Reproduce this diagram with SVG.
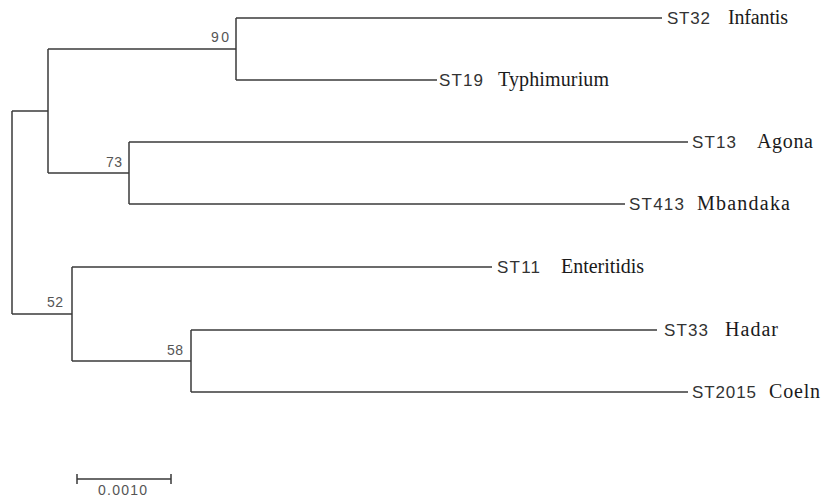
<svg xmlns="http://www.w3.org/2000/svg" width="823" height="499" viewBox="0 0 823 499">
<style>
.br{fill:none;stroke:#3a3a3a;stroke-width:1.5}
.st{font-family:"Liberation Sans",Arial,sans-serif;font-size:17px;fill:#333}
.sp{font-family:"Liberation Serif","Times New Roman",serif;font-size:20px;fill:#1a1a1a}
.bs{font-family:"Liberation Sans",Arial,sans-serif;font-size:14px;fill:#555}
</style>
<rect width="823" height="499" fill="#fff"/>
<g id="connectors">
<path class="br" d="M12,111 V314"/>
<path class="br" d="M12,111 H48"/>
<path class="br" d="M12,314 H72"/>
<path class="br" d="M48,49 V173"/>
<path class="br" d="M48,49 H236"/>
<path class="br" d="M48,173 H129"/>
<path class="br" d="M236,18 V80"/>
<path class="br" d="M236,18 H662"/>
<path class="br" d="M236,80 H437"/>
<path class="br" d="M129,142 V204"/>
<path class="br" d="M129,142 H688"/>
<path class="br" d="M129,204 H625"/>
<path class="br" d="M72,267 V361"/>
<path class="br" d="M72,267 H492"/>
<path class="br" d="M72,361 H191"/>
<path class="br" d="M191,330 V392"/>
<path class="br" d="M191,330 H657"/>
<path class="br" d="M191,392 H688"/>
</g>
<g id="bootstrap">
<text class="bs" x="211" y="42" textLength="18">90</text>
<text class="bs" x="106" y="167" textLength="16">73</text>
<text class="bs" x="47" y="307" textLength="16">52</text>
<text class="bs" x="167" y="355" textLength="16">58</text>
</g>
<g id="ST32"><text class="st" x="667" y="24" textLength="43">ST32</text><text class="sp" x="728" y="24" textLength="60">Infantis</text></g>
<g id="ST19"><text class="st" x="439" y="86" textLength="44">ST19</text><text class="sp" x="498" y="86" textLength="111">Typhimurium</text></g>
<g id="ST13"><text class="st" x="692" y="148" textLength="44">ST13</text><text class="sp" x="757" y="148" textLength="56">Agona</text></g>
<g id="ST413"><text class="st" x="629" y="210" textLength="55">ST413</text><text class="sp" x="697" y="210" textLength="93">Mbandaka</text></g>
<g id="ST11"><text class="st" x="497" y="273" textLength="43">ST11</text><text class="sp" x="561" y="273" textLength="83">Enteritidis</text></g>
<g id="ST33"><text class="st" x="664" y="336" textLength="44">ST33</text><text class="sp" x="725" y="336" textLength="53">Hadar</text></g>
<g id="ST2015"><text class="st" x="692" y="398" textLength="64">ST2015</text><text class="sp" x="769" y="398" textLength="51">Coeln</text></g>
<g id="scale">
<path class="br" d="M77,479 H171 M77,474 V484 M171,474 V484"/>
<text class="bs" x="98" y="495" font-size="13" textLength="49">0.0010</text>
</g>
</svg>
